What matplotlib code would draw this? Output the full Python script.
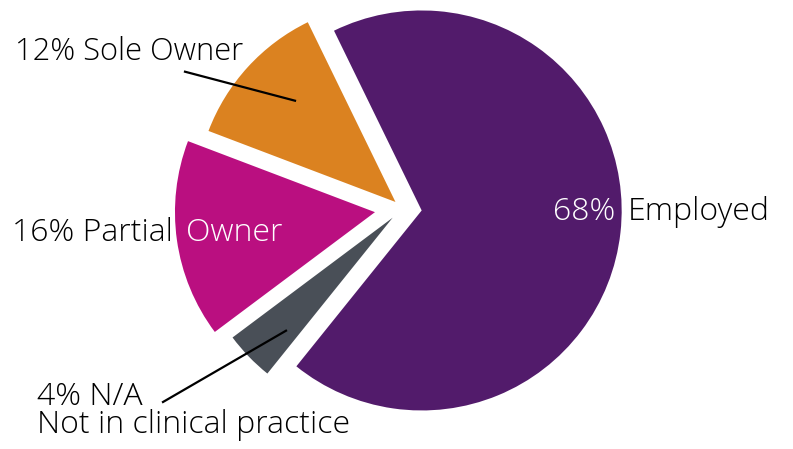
import matplotlib
matplotlib.use("Agg")
import matplotlib.pyplot as plt

# Data
categories = ["Employed", "N/A", "Partial Owner", "Sole Owner"]
values = [68, 4, 16, 12]
colors = ["#521B6B", "#494F57", "#BA0F80", "#DB8220"]

W, H = 793, 449
CX, CY, R = 402.4, 208.3, 200.0   # pixel centre / radius

def px(x, y):
    return ((x - CX) / R, (CY - y) / R)

fig = plt.figure(figsize=(W / 100, H / 100), dpi=100)
ax = fig.add_axes([0, 0, 1, 1])
explode = [19.4 / R, 13.5 / R, 27.7 / R, 9.4 / R]
ax.pie(values, colors=colors, startangle=116, counterclock=False,
       explode=explode, radius=1.0, center=(0, 0),
       wedgeprops=dict(linewidth=0))
ax.set_xlim(px(0, 0)[0], px(W, 0)[0])
ax.set_ylim(px(0, H)[1], px(0, 0)[1])
ax.set_aspect("auto")
ax.axis("off")

fam = ["Open Sans", "DejaVu Sans"]
fs = 23
fw = "light"
kw = dict(fontsize=fs, family=fam, weight=fw, ha="left", va="baseline")

# 68% Employed
ax.text(*px(553, 220), f"{values[0]}%", color="white", **kw)
ax.text(*px(628, 220), categories[0], color="black", **kw)

# 16% Partial Owner
ax.text(*px(12, 241), f"{values[2]}% Partial", color="black", **kw)
ax.text(*px(186, 241), "Owner", color="white", **kw)

# 12% Sole Owner
ax.text(*px(15, 60), f"{values[3]}% Sole Owner", color="black",
        **{**kw, "fontsize": 22.2})
x0, y0 = px(185, 71.7)
x1, y1 = px(295, 100.7)
ax.plot([x0, x1], [y0, y1], color="black", lw=1.6)

# 4% N/A
ax.text(*px(37, 433), f"{values[1]}% N/A\nNot in clinical practice",
        color="black", linespacing=0.85, multialignment="left", **kw)
x0, y0 = px(163, 402)
x1, y1 = px(286, 330.7)
ax.plot([x0, x1], [y0, y1], color="black", lw=1.6)

fig.savefig("out.png", dpi=100)
